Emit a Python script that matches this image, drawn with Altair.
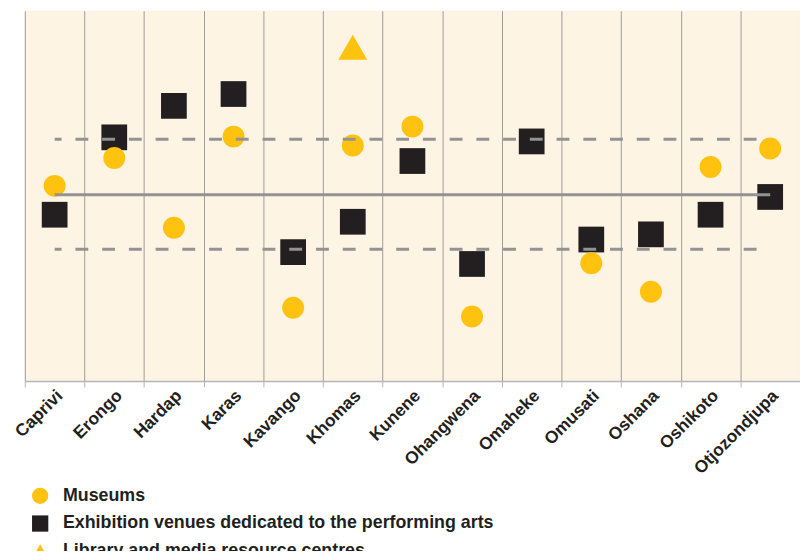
import altair as alt
import pandas as pd

regions = ["Caprivi", "Erongo", "Hardap", "Karas", "Kavango", "Khomas", "Kunene",
           "Ohangwena", "Omaheke", "Omusati", "Oshana", "Oshikoto", "Otjozondjupa"]
museums = [52.7, 60.2, 41.4, 66.0, 19.8, 63.6, 68.7, 17.4, None, 31.8, 24.1, 57.8, 62.8]
venues = [44.9, 65.8, 74.3, 77.5, 34.8, 43.0, 59.4, 31.6, 64.7, 38.2, 39.6, 44.9, 49.7]
library = [None, None, None, None, None, 90.1, None, None, None, None, None, None, None]
series = ["Museums", "Exhibition venues dedicated to the performing arts",
          "Library and media resource centres"]
mark_sizes = [491, 676, 850]
mean_value = 50.3
upper_value = 65.3
lower_value = 35.6

rows = []
for k, (name, vals) in enumerate([(series[1], venues), (series[0], museums), (series[2], library)]):
    for r, v in zip(regions, vals):
        if v is not None:
            rows.append({"region": r, "type": name, "value": v, "ord": k,
                         "sz": mark_sizes[series.index(name)]})
df = pd.DataFrame(rows)

line_rows = []
for lname, v in [("mean", mean_value), ("upper", upper_value), ("lower", lower_value)]:
    for r in [regions[0], regions[-1]]:
        line_rows.append({"region": r, "line": lname, "value": v})
lines_df = pd.DataFrame(line_rows)

FONT = "Liberation Sans, Arial, sans-serif"

x_enc = alt.X(
    "region:N", sort=regions,
    scale=alt.Scale(domain=regions, paddingInner=0, paddingOuter=0),
    axis=alt.Axis(title=None, tickBand="extent", labelAngle=-45, labelAlign="right",
                  labelBaseline="middle", labelOffset=5, labelPadding=6, tickSize=6,
                  grid=True, gridColor="#9c9c9c", gridWidth=1,
                  domainColor="#b4b4b4", domainWidth=1.5, tickColor="#b4b4b4",
                  tickWidth=1, labelFont=FONT, labelFontSize=17.5,
                  labelFontWeight="bold", labelColor="#231f20"),
)
y_scale = alt.Scale(domain=[0, 100], nice=False, zero=False)

points = alt.Chart(df).mark_point(filled=True, opacity=1).encode(
    x=x_enc,
    y=alt.Y("value:Q", scale=y_scale, axis=None),
    shape=alt.Shape("type:N", scale=alt.Scale(domain=series, range=["circle", "square", "triangle-up"]),
                    legend=alt.Legend(title=None, orient="none", legendX=6.5, legendY=481,
                                      direction="vertical", rowPadding=10, labelOffset=14,
                                      labelFont=FONT, labelFontSize=18, labelFontWeight="bold",
                                      labelColor="#231f20", symbolSize=270, labelLimit=700)),
    color=alt.Color("type:N", scale=alt.Scale(domain=series, range=["#FFC20E", "#231F20", "#FFC20E"])),
    size=alt.Size("sz:Q", scale=None),
    order=alt.Order("ord:Q"),
)

mean_line = alt.Chart(lines_df).transform_filter(alt.datum.line == "mean").mark_line(
    color="#939393", strokeWidth=3).encode(
    x=alt.X("region:N", sort=regions), y=alt.Y("value:Q", scale=y_scale, axis=None),
    detail="line:N")

band_lines = alt.Chart(lines_df).transform_filter(alt.datum.line != "mean").mark_line(
    color="#939393", strokeWidth=3, strokeDash=[13, 14], strokeDashOffset=6).encode(
    x=alt.X("region:N", sort=regions), y=alt.Y("value:Q", scale=y_scale, axis=None),
    detail="line:N")

chart = alt.layer(points, mean_line, band_lines).properties(
    width=783, height=374,
    autosize=alt.AutoSizeParams(type="none"),
    padding={"left": 17, "top": 0, "right": 0, "bottom": 169},
).configure_view(fill="#FEF4E4", stroke=None)

chart.save("out.html", embed_options={"renderer": "svg", "actions": False})
